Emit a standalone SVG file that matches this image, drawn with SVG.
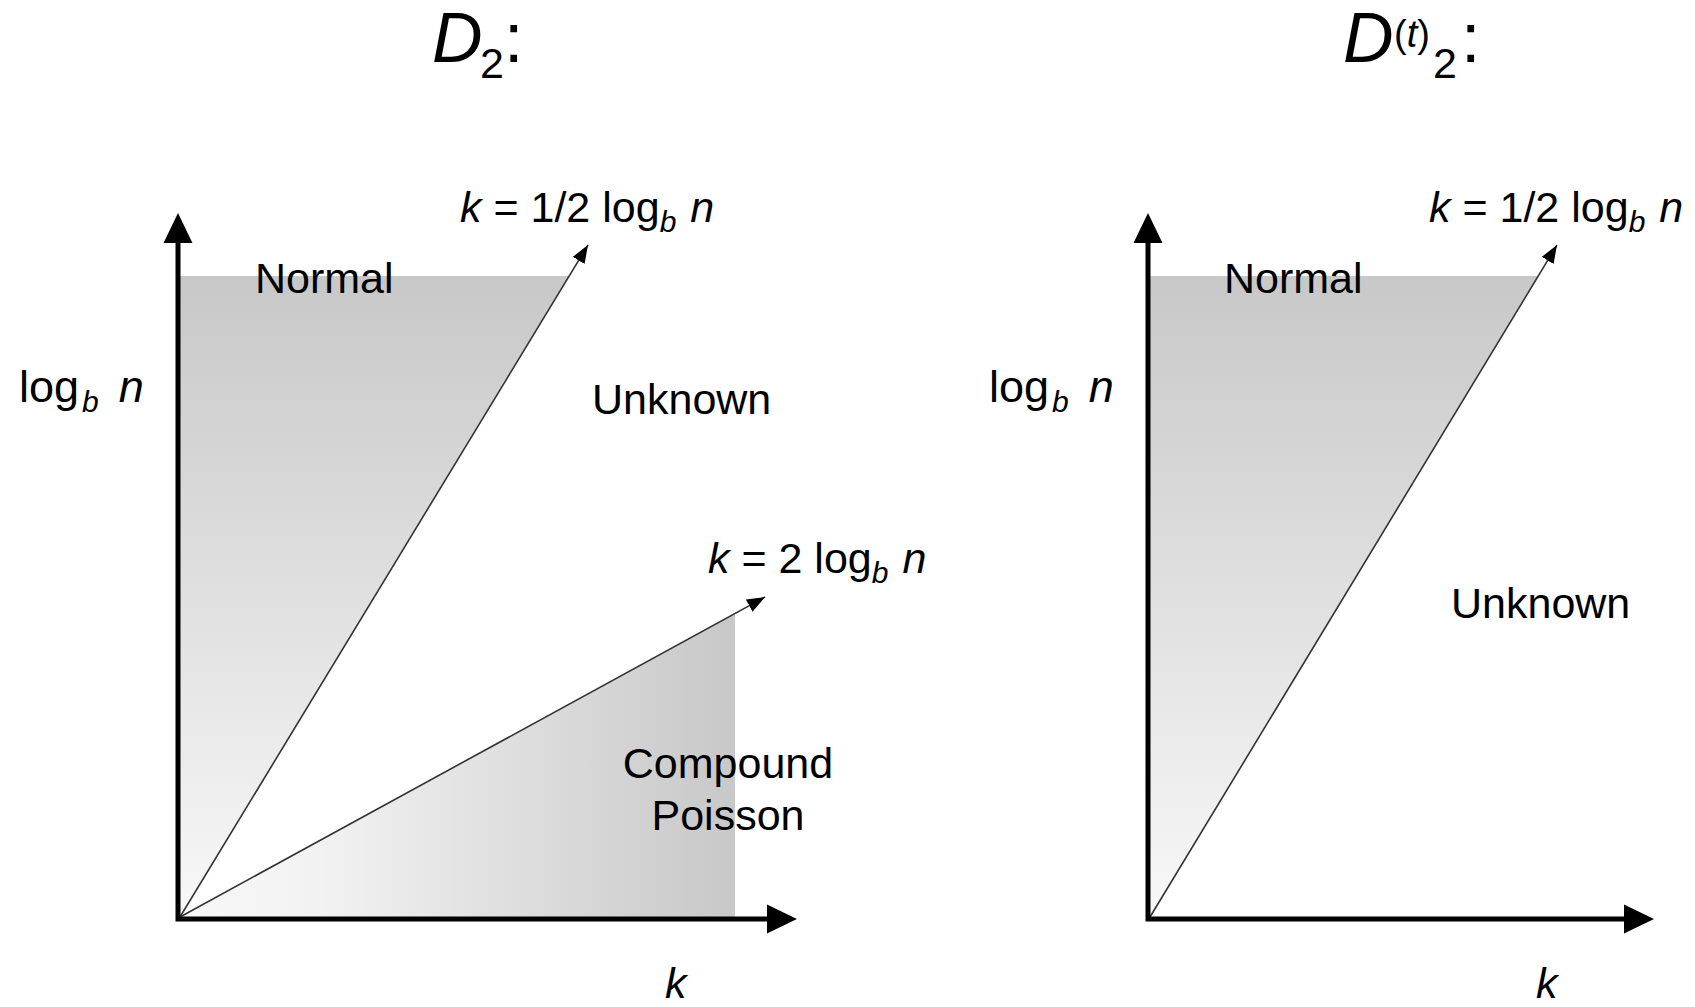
<svg xmlns="http://www.w3.org/2000/svg" width="1695" height="1007" viewBox="0 0 1695 1007">
<style>
text{font-family:"Liberation Sans",Arial,sans-serif;fill:#000;}
.lbl{font-size:43px;}
.ax{font-size:45px;}
.it{font-style:italic;}
.sub{font-size:30px;font-style:italic;}
.title{font-size:70px;}
.axis{fill:none;stroke:#000;stroke-width:5;stroke-linejoin:miter;}
.ray{fill:none;stroke:#333;stroke-width:1.6;}
</style>
<defs>
<marker id="big" markerUnits="userSpaceOnUse" markerWidth="30" markerHeight="30" refX="0" refY="13.5" orient="auto-start-reverse" viewBox="0 0 28 27">
<path d="M0,0 L28,13.5 L0,27 z" fill="#000"/>
</marker>
<marker id="small" markerUnits="userSpaceOnUse" markerWidth="18" markerHeight="14" refX="17" refY="6.5" orient="auto" viewBox="0 0 17 13">
<path d="M0,0 L17,6.5 L0,13 z" fill="#000"/>
</marker>
<linearGradient id="gNormL" gradientUnits="userSpaceOnUse" x1="0" y1="276" x2="0" y2="917">
<stop offset="0" stop-color="#c8c8c8"/><stop offset="1" stop-color="#f8f8f8"/>
</linearGradient>
<linearGradient id="gNormR" gradientUnits="userSpaceOnUse" x1="0" y1="276" x2="0" y2="917">
<stop offset="0" stop-color="#c8c8c8"/><stop offset="1" stop-color="#f8f8f8"/>
</linearGradient>
<linearGradient id="gPois" gradientUnits="userSpaceOnUse" x1="180" y1="0" x2="735" y2="0">
<stop offset="0" stop-color="#f8f8f8"/><stop offset="0.25" stop-color="#f2f2f2"/><stop offset="1" stop-color="#c8c8c8"/>
</linearGradient>
</defs>

<!-- Left panel -->
<g id="title-left">
<text x="432" y="62" class="title it">D</text>
<text x="480" y="78" class="lbl">2</text>
<text x="504" y="62" class="title">:</text>
</g>
<g id="region-normal-left">
<polygon points="180,276 569,276 180,917" fill="url(#gNormL)"/>
<text x="255" y="293" class="lbl">Normal</text>
</g>
<g id="region-poisson">
<polygon points="180,917 735,613 735,917" fill="url(#gPois)"/>
<text x="728" y="778" class="lbl" text-anchor="middle">Compound</text>
<text x="728" y="830" class="lbl" text-anchor="middle">Poisson</text>
</g>
<g id="region-unknown-left">
<text x="592" y="414" class="lbl">Unknown</text>
</g>
<g id="labels-left">
<text x="19" y="402" class="ax">log<tspan class="sub" dx="3" dy="10">b</tspan><tspan class="it" dx="20" dy="-10">n</tspan></text>
<text x="460" y="222" class="lbl"><tspan class="it">k</tspan> = 1/2 log<tspan class="sub" dy="10">b</tspan><tspan class="it" dx="14" dy="-10">n</tspan></text>
<text x="708" y="573" class="lbl"><tspan class="it">k</tspan> = 2 log<tspan class="sub" dy="10">b</tspan><tspan class="it" dx="14" dy="-10">n</tspan></text>
<text x="665" y="998" class="lbl it">k</text>
</g>

<!-- Right panel -->
<g id="title-right">
<text x="1343" y="62" class="title it">D</text>
<text x="1394" y="47" style="font-size:38px">(<tspan class="it">t</tspan>)</text>
<text x="1433" y="78" class="lbl">2</text>
<text x="1461" y="62" class="title">:</text>
</g>
<g id="region-normal-right">
<polygon points="1150,276 1539,276 1150,917" fill="url(#gNormR)"/>
<text x="1224" y="293" class="lbl">Normal</text>
</g>
<g id="region-unknown-right">
<text x="1451" y="618" class="lbl">Unknown</text>
</g>
<g id="labels-right">
<text x="989" y="402" class="ax">log<tspan class="sub" dx="3" dy="10">b</tspan><tspan class="it" dx="20" dy="-10">n</tspan></text>
<text x="1429" y="222" class="lbl"><tspan class="it">k</tspan> = 1/2 log<tspan class="sub" dy="10">b</tspan><tspan class="it" dx="14" dy="-10">n</tspan></text>
<text x="1536" y="998" class="lbl it">k</text>
</g>

<g id="connectors">
<line class="ray" x1="180" y1="917" x2="588" y2="245" marker-end="url(#small)"/>
<line class="ray" x1="180" y1="917" x2="765" y2="597" marker-end="url(#small)"/>
<line class="ray" x1="1150" y1="917" x2="1557" y2="245" marker-end="url(#small)"/>
<path class="axis" d="M178,243 L178,919 L767,919" marker-start="url(#big)" marker-end="url(#big)"/>
<path class="axis" d="M1148,243 L1148,919 L1624,919" marker-start="url(#big)" marker-end="url(#big)"/>
</g>
</svg>
